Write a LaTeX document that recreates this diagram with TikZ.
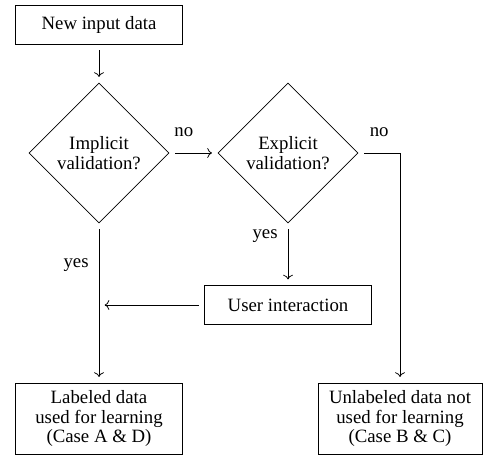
\documentclass[tikz,border=0pt]{standalone}
\usepackage{fontspec}
\setmainfont{Liberation Serif}
\usetikzlibrary{shapes}
\usetikzlibrary{positioning}
\usetikzlibrary{arrows.meta}
\tikzset{
    boxnode/.style = {rectangle, draw=black, align=center, minimum width=88.5pt, minimum height=20.8pt},
    decnode/.style = {diamond, draw=black, align=center, inner sep=0pt, minimum width=74.5pt, minimum height=74.5pt},
    edgea/.style = {->, thin, black, shorten >=3pt, shorten <=3pt},
}

\begin{document}
\begin{tikzpicture}[
  x=0.532pt, y=-0.532pt,
  font=\fontsize{10pt}{10.5pt}\selectfont]
  \useasboundingbox (0,0) rectangle (483,455);
  \node[boxnode] (input) at (99,24.5) {New input data};
  \node[decnode] (implicit) at (99,153) {Implicit\\validation?};
  \node[decnode] (explicit) at (288,153) {Explicit\\validation?};
  \node[boxnode] (user) at (288,305) {User interaction};
  \node[boxnode, minimum height=37.8pt] (labeled) at (99,418.5) {Labeled data\\used for learning\\(Case A \& D)};
  \node[boxnode, minimum width=87.2pt, minimum height=37.8pt] (unlabeled) at (400,418.5) {Unlabeled data not\\used for learning\\(Case B \& C)};
  \coordinate (join) at (implicit |- user);

  \draw[edgea] (input) -- (implicit);
  \draw[edgea] (implicit) -- node[pos=0.3, above=5pt] {no} (explicit);
  \draw[edgea] (explicit) -| node[pos=0.25, above=5pt] {no} (unlabeled);
  \draw[edgea] (explicit) -- node[pos=0.2, left=2pt] {yes} (user);
  \draw[edgea] (implicit) -- node[pos=0.26, left=2pt] {yes} (labeled);
  \draw[edgea] (user) -- (join);
\end{tikzpicture}
\end{document}
